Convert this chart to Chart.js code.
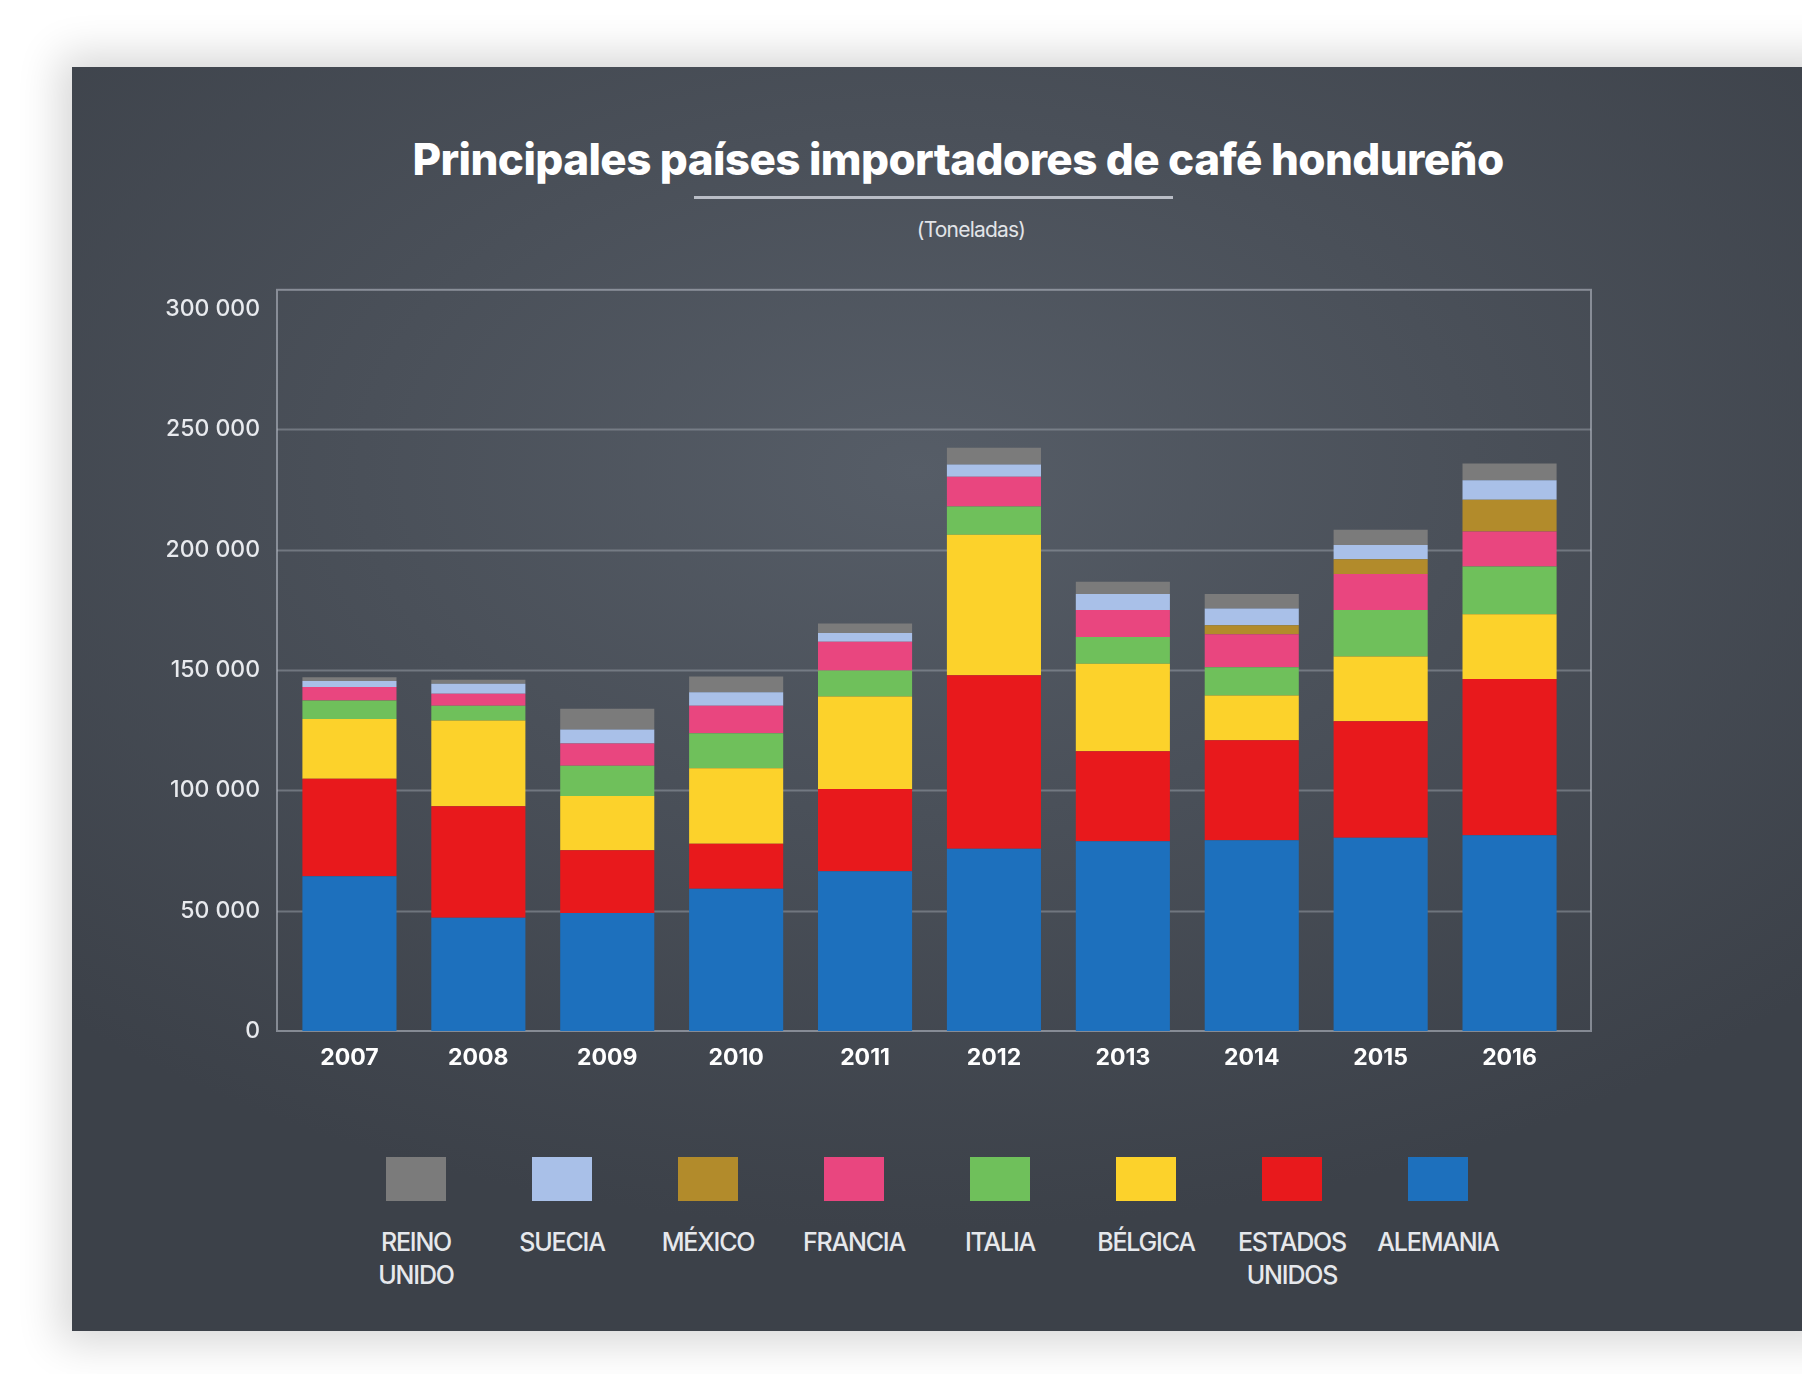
<!DOCTYPE html>
<html>
<head>
<meta charset="utf-8">
<title>Principales países importadores de café hondureño</title>
<script src="https://cdn.jsdelivr.net/npm/chart.js@4.4.0/dist/chart.umd.min.js"></script>
<style>
  html, body { margin: 0; padding: 0; background: #ffffff; }
  body { width: 1802px; height: 1374px; position: relative; overflow: hidden; font-family: Inter, "Open Sans", sans-serif; }
  #panel {
    position: absolute; left: 72px; top: 67px; width: 1760px; height: 1264px;
    background: radial-gradient(ellipse 70% 60% at 48% 32%, #565d67 0%, #4a5059 45%, #3c4149 100%);
    box-shadow: 0 0 40px 12px rgba(0, 0, 0, 0.16);
  }
  #title {
    position: absolute; left: 258px; width: 1400px; top: 131px; text-align: center;
    color: #ffffff; font-weight: 800; font-size: 44px; line-height: 56px; letter-spacing: -0.6px;
  }
  #rule { position: absolute; left: 694px; top: 196px; width: 479px; height: 3px; background: #b9bdc6; }
  #subtitle {
    position: absolute; left: 771px; width: 400px; top: 216px; text-align: center;
    color: #e2e4e8; font-size: 21px; line-height: 28px; letter-spacing: -0.8px;
  }
  #chartBox { position: absolute; left: 108px; top: 251px; width: 1492px; height: 840px; }
  #legend {
    position: absolute; left: 343px; top: 1157px; width: 1168px;
    display: flex; justify-content: center;
  }
  .item { width: 146px; display: flex; flex-direction: column; align-items: center; }
  .swatch { width: 60px; height: 44px; }
  .lbl {
    margin-top: 25px; color: #e6e8ec; font-size: 25px; line-height: 33px; text-align: center;
    letter-spacing: -1.2px; white-space: nowrap; font-weight: 500;
  }
</style>
</head>
<body>
<div id="panel"></div>
<div id="title">Principales países importadores de café hondureño</div>
<div id="rule"></div>
<div id="subtitle">(Toneladas)</div>
<div id="chartBox"><canvas id="barChart"></canvas></div>
<div id="legend"></div>

<script>
// años
var years = ['2007', '2008', '2009', '2010', '2011', '2012', '2013', '2014', '2015', '2016'];

// toneladas por país (de abajo hacia arriba en la pila)
var alemania      = [64300, 47100, 49000, 59100, 66400, 75700, 78900, 79300, 80300, 81300];
var estadosUnidos = [40500, 46300, 26100, 18700, 34200, 72100, 37300, 41500, 48400, 65000];
var belgica       = [24900, 35600, 22600, 31400, 38400, 58400, 36400, 18600, 26900, 26900];
var italia        = [7600, 6200, 12500, 14500, 10800, 11800, 11100, 11800, 19300, 19800];
var francia       = [5600, 4900, 9300, 11500, 11900, 12300, 11200, 13700, 15000, 14600];
var mexico        = [0, 0, 0, 0, 0, 0, 0, 3700, 6100, 13200];
var suecia        = [2500, 4200, 5800, 5600, 3700, 5100, 6700, 7000, 6000, 8100];
var reinoUnido    = [1600, 1700, 8600, 6500, 3900, 7000, 5100, 6000, 6300, 6900];

var yTicks = [0, 50000, 100000, 150000, 200000, 250000, 300000];

var series = [
    { label: 'ALEMANIA', legend: ['ALEMANIA'], data: alemania, color: '#1d70bd' },
    { label: 'ESTADOS UNIDOS', legend: ['ESTADOS', 'UNIDOS'], data: estadosUnidos, color: '#e8191c' },
    { label: 'BÉLGICA', legend: ['BÉLGICA'], data: belgica, color: '#fcd22b' },
    { label: 'ITALIA', legend: ['ITALIA'], data: italia, color: '#6fc05b' },
    { label: 'FRANCIA', legend: ['FRANCIA'], data: francia, color: '#e9467f' },
    { label: 'MÉXICO', legend: ['MÉXICO'], data: mexico, color: '#b28b2b' },
    { label: 'SUECIA', legend: ['SUECIA'], data: suecia, color: '#a9c0e8' },
    { label: 'REINO UNIDO', legend: ['REINO', 'UNIDO'], data: reinoUnido, color: '#7b7b7b' }
];

function fmt(v) {
    return String(v).replace(/\B(?=(\d{3})+(?!\d))/g, ' ');
}

// marco y líneas de guía, un poco más anchos que el área de barras
var EXTRA_L = 8, EXTRA_R = 17;
var framePlugin = {
    id: 'frame',
    beforeDatasetsDraw: function (chart) {
        var a = chart.chartArea, ctx = chart.ctx, y = chart.scales.y;
        var l = a.left - EXTRA_L, r = a.right + EXTRA_R;
        ctx.save();
        ctx.lineWidth = 2;
        ctx.strokeStyle = 'rgba(165, 170, 180, 0.45)';
        yTicks.forEach(function (v) {
            if (v === 0 || v === 300000) return;
            var py = Math.round(y.getPixelForValue(v)) + 0.5;
            ctx.beginPath();
            ctx.moveTo(l, py);
            ctx.lineTo(r, py);
            ctx.stroke();
        });
        ctx.strokeStyle = 'rgba(180, 185, 195, 0.6)';
        ctx.strokeRect(l, a.top, r - l, a.bottom - a.top);
        ctx.restore();
    }
};

var ctx = document.getElementById('barChart').getContext('2d');
var chart = new Chart(ctx, {
    type: 'bar',
    data: {
        labels: years,
        datasets: series.map(function (s) {
            return {
                label: s.label,
                data: s.data,
                backgroundColor: s.color,
                borderWidth: 0,
                barPercentage: 0.73,
                categoryPercentage: 1.0
            };
        })
    },
    options: {
        responsive: true,
        maintainAspectRatio: false,
        animation: false,
        layout: { padding: { top: 10, right: 26, bottom: 0, left: 0 } },
        plugins: {
            legend: { display: false },
            title: { display: false },
            tooltip: { enabled: false }
        },
        scales: {
            x: {
                stacked: true,
                grid: { display: false, drawTicks: false },
                border: { display: false },
                ticks: {
                    color: '#ffffff',
                    padding: 13,
                    font: { family: 'Inter', size: 23, weight: 'bold' }
                },
                afterFit: function (scale) { scale.height = 60; }
            },
            y: {
                stacked: true,
                min: 0,
                max: 308000,
                grid: { display: false, drawTicks: false },
                border: { display: false },
                afterBuildTicks: function (scale) {
                    scale.ticks = yTicks.map(function (v) { return { value: v }; });
                },
                ticks: {
                    color: '#e8eaee',
                    padding: 25,
                    font: { family: 'Inter', size: 23, weight: '500' },
                    callback: function (v) { return fmt(v); }
                },
                afterFit: function (scale) { scale.width = 177; }
            }
        }
    },
    plugins: [framePlugin]
});

// leyenda: de arriba de la pila hacia abajo
var legendEl = document.getElementById('legend');
series.slice().reverse().forEach(function (s) {
    var item = document.createElement('div');
    item.className = 'item';
    var sw = document.createElement('div');
    sw.className = 'swatch';
    sw.style.background = s.color;
    var lb = document.createElement('div');
    lb.className = 'lbl';
    lb.innerHTML = s.legend.join('<br>');
    item.appendChild(sw);
    item.appendChild(lb);
    legendEl.appendChild(item);
});
</script>
</body>
</html>
